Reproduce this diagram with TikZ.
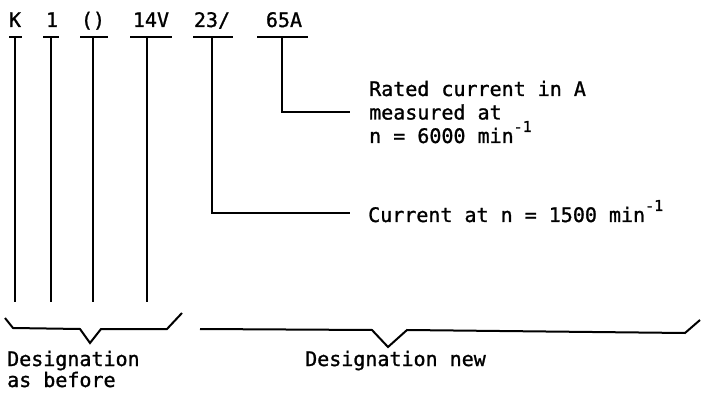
\documentclass[tikz,border=0pt]{standalone}
\usepackage{fontspec}
\newfontfamily\monofnt[FakeBold=1.2]{DejaVu Sans Mono}
\newcommand{\supmark}[1]{\raisebox{11pt}{\fontsize{15}{15}\selectfont #1}}
\tikzset{
  txt/.style={font=\monofnt\fontsize{20}{24}\selectfont, inner sep=0pt, anchor=base west},
  codelbl/.style={font=\monofnt\fontsize{20}{24}\selectfont, inner sep=0pt, anchor=base},
  ln/.style={line width=2pt},
}
\begin{document}
\begin{tikzpicture}[x=1pt,y=-1pt]
\useasboundingbox (0,0) rectangle (701,395);
% top code labels
\node[codelbl] (k)   at (15,27)  {K};
\node[codelbl] (one) at (52,27)  {1};
\node[codelbl] (par) at (93,27)  {()};
\node[codelbl] (v14) at (151,27) {14V};
\node[codelbl] (a23) at (212,27) {23/};
\node[codelbl] (a65) at (284,27) {65A};
% bars under labels
\draw[ln] (9,37) -- (22,37);
\draw[ln] (43,37) -- (59,37);
\draw[ln] (80,37) -- (108,37);
\draw[ln] (130,37) -- (172,37);
\draw[ln] (193,37) -- (233,37);
\draw[ln] (257,37) -- (308,37);
\coordinate (ck)   at (15,37);
\coordinate (cone) at (51,37);
\coordinate (cpar) at (93,37);
\coordinate (cv14) at (147,37);
\coordinate (c23)  at (212,37);
\coordinate (c65)  at (282,37);
\coordinate (ek)   at (15,302);
\coordinate (eone) at (51,302);
\coordinate (epar) at (93,302);
\coordinate (ev14) at (147,302);
\draw[ln] (ck) -- (ek);
\draw[ln] (cone) -- (eone);
\draw[ln] (cpar) -- (epar);
\draw[ln] (cv14) -- (ev14);
% explanations
\node[txt] (r1) at (369,96)  {Rated current in A};
\node[txt] (r2) at (369,119.5) {measured at};
\node[txt] (r3) at (369,143) {n = 6000 min\supmark{-1}};
\node[txt] (cur) at (368,222) {Current at n = 1500 min\supmark{-1}};
\coordinate (e65) at (350,112);
\coordinate (e23) at (350,213);
\draw[ln] (c65) |- (e65);
\draw[ln] (c23) |- (e23);
% braces
\draw[ln, line join=miter] (5,318) -- (13,328) -- (80,329) -- (90,343) -- (101,329) -- (167,329) -- (182,313);
\draw[ln, line join=miter] (200,329) -- (372,330) -- (388,347) -- (407,330) -- (685,333) -- (700,320);
% bottom labels
\node[txt] (d1) at (7,366) {Designation};
\node[txt] (d2) at (7,387) {as before};
\node[txt] (dn) at (305,366) {Designation new};
\end{tikzpicture}
\end{document}
